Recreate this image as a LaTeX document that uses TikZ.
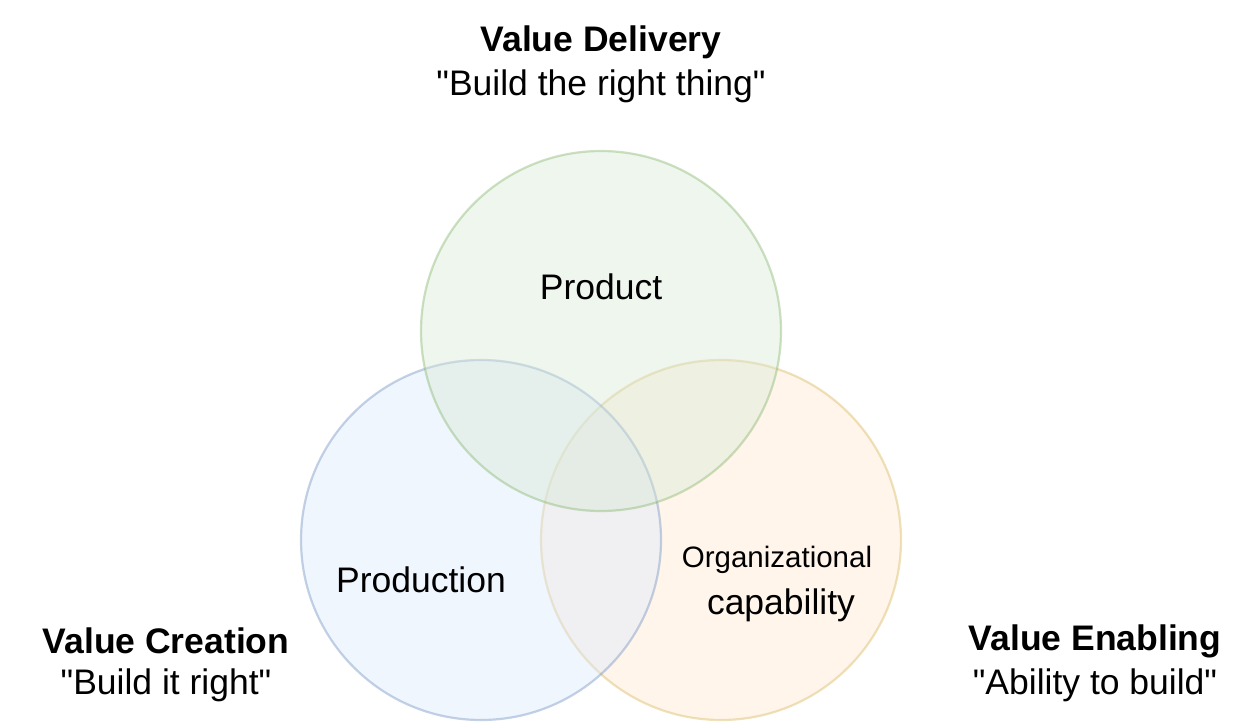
\documentclass[tikz,border=0pt]{standalone}
\usepackage{fontspec}
\setmainfont{Liberation Sans}
\definecolor{blueFill}{HTML}{DAE8FC}
\definecolor{blueLine}{HTML}{6C8EBF}
\definecolor{greenFill}{HTML}{D5E8D4}
\definecolor{greenLine}{HTML}{82B366}
\definecolor{orangeFill}{HTML}{FFE6CC}
\definecolor{orangeLine}{HTML}{D6B656}
\begin{document}
\begin{tikzpicture}[x=1pt, y=-1pt, font=\fontsize{35.5}{40}\selectfont,
  ring/.style={circle, inner sep=0pt, minimum size=360pt, line width=2.2pt, opacity=0.4},
  heading/.style={font=\fontsize{35.5}{40}\selectfont\bfseries},
  motto/.style={font=\fontsize{35.5}{40}\selectfont}]
\useasboundingbox (0,0) rectangle (1260,723);
% three overlapping circles
\node[ring, draw=orangeLine, fill=orangeFill] (enabling) at (721,540) {};
\node[ring, draw=blueLine, fill=blueFill] (creation) at (481,540) {};
\node[ring, draw=greenLine, fill=greenFill] (delivery) at (601,331) {};
% labels inside
\node (product) at (601,287) {Product};
\node (production) at (421,580) {Production};
\node[font=\fontsize{29.5}{34}\selectfont] (org) at (777,560) {Organizational};
\node (capability) at (781,605) {capability};
% titles outside
\node[heading] (deliveryT) at (601,42) {Value Delivery};
\node[motto] (deliveryQ) at (601,86) {\textquotedbl Build the right thing\textquotedbl};
\node[heading] (creationT) at (166,641) {Value Creation};
\node[motto] (creationQ) at (166,685) {\textquotedbl Build it right\textquotedbl};
\node[heading] (enablingT) at (1095,641) {Value Enabling};
\node[motto] (enablingQ) at (1095,685) {\textquotedbl Ability to build\textquotedbl};
\end{tikzpicture}
\end{document}
